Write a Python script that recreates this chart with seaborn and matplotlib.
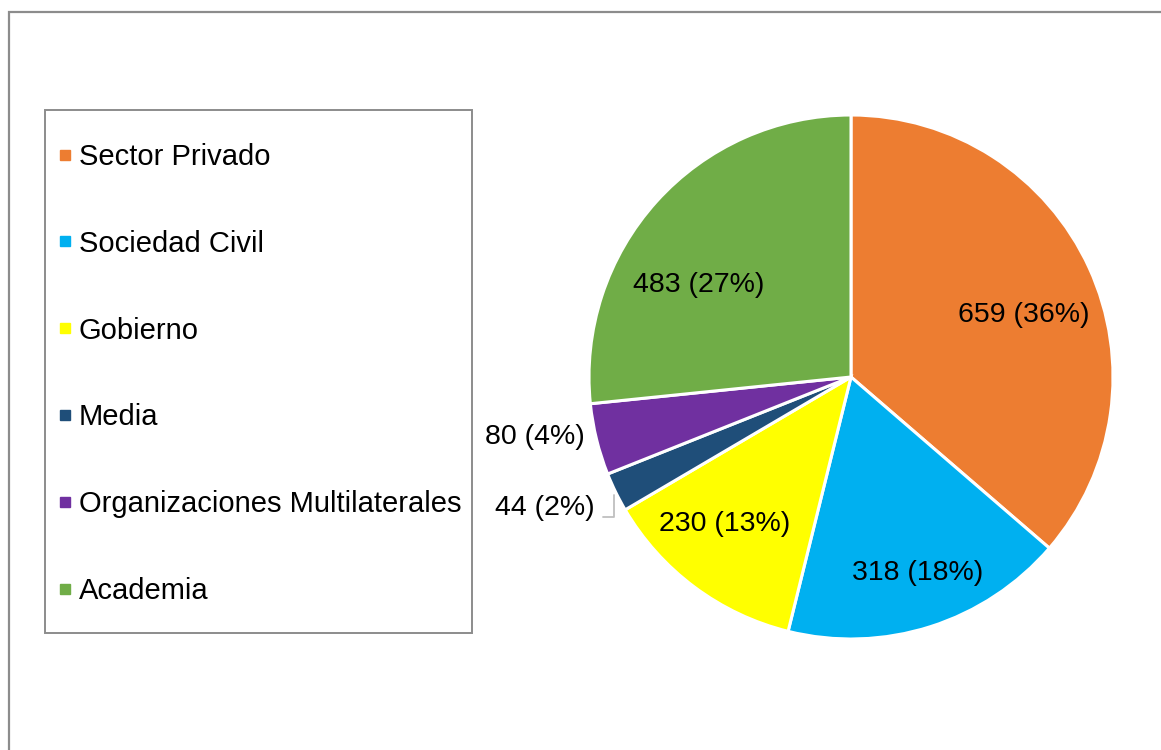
import numpy as np
import matplotlib
matplotlib.use("Agg")
import matplotlib.pyplot as plt
from matplotlib.patches import Rectangle
from matplotlib.lines import Line2D
import seaborn as sns

# ---- data ----
categories = ["Sector Privado", "Sociedad Civil", "Gobierno", "Media",
              "Organizaciones Multilaterales", "Academia"]
values = [659, 318, 230, 44, 80, 483]
pct_labels = ["36%", "18%", "13%", "2%", "4%", "27%"]

# ---- styling ----
colors = ["#ED7D31", "#00B0F0", "#FFFF00", "#1F4E79", "#7030A0", "#70AD47"]
label_dist = [0.70, 0.79, 0.74, 1.27, 1.23, 0.68]
label_angle_offset = [-5, 1, -4, -3, -3, 11]

sns.set_theme(style="white")
sns.set_palette(sns.color_palette(colors))
plt.rcParams["font.family"] = ["Liberation Sans", "DejaVu Sans"]
plt.rcParams["text.color"] = "black"

W, H = 1161, 750
fig = plt.figure(figsize=(W / 100, H / 100), dpi=100)
fig.patch.set_facecolor("white")

# pie axes: center (851,377), radius 262 px
cx, cy, r = 851, 377, 262
ax = fig.add_axes([(cx - r) / W, 1 - (cy + r) / H, 2 * r / W, 2 * r / H])
wedges, _ = ax.pie(values, colors=sns.color_palette(colors), startangle=90,
                   counterclock=False, radius=1,
                   wedgeprops=dict(edgecolor="white", linewidth=2.2))
ax.set_xlim(-1, 1)
ax.set_ylim(-1, 1)
ax.set_aspect("equal")
ax.axis("off")

fs = 20.5
for w, v, p, d, off in zip(wedges, values, pct_labels, label_dist, label_angle_offset):
    th = np.deg2rad((w.theta1 + w.theta2) / 2 + off)
    x, y = d * np.cos(th), d * np.sin(th)
    ax.text(x, y, f"{v} ({p})", ha="center", va="center", fontsize=fs,
            color="black", clip_on=False)

# leader line for the small "Media" slice
w = wedges[3]
th = np.deg2rad((w.theta1 + w.theta2) / 2)
x0, y0 = 1.0 * np.cos(th) - 0.005, 1.0 * np.sin(th) - 0.01
ax.plot([x0, x0, x0 - 0.042], [y0, y0 - 0.084, y0 - 0.084], color="#BFBFBF",
        lw=1.3, clip_on=False)

# legend
handles = [Line2D([0], [0], marker="s", linestyle="none", markersize=7,
                  markerfacecolor=c, markeredgecolor=c) for c in colors]
leg = fig.legend(handles, categories, loc="center left",
                 bbox_to_anchor=(45 / W, 1 - 374 / H), bbox_transform=fig.transFigure,
                 frameon=False, fontsize=21, labelspacing=2.02, borderpad=0.5,
                 handlelength=0.35, handletextpad=0.30, borderaxespad=0)
for t in leg.get_texts():
    t.set_color("black")

# legend frame
fig.patches.append(Rectangle((45 / W, 1 - 633 / H), (472 - 45) / W, (633 - 110) / H,
                             transform=fig.transFigure, fill=False,
                             edgecolor="#8C8C8C", linewidth=1.4))
# outer chart border (extends beyond right/bottom edges)
fig.patches.append(Rectangle((8.5 / W, -0.1), 1.5, (1 - 11.5 / H) + 0.1,
                             transform=fig.transFigure, fill=False,
                             edgecolor="#8C8C8C", linewidth=1.6))

fig.savefig("out.png", dpi=100, facecolor="white")
